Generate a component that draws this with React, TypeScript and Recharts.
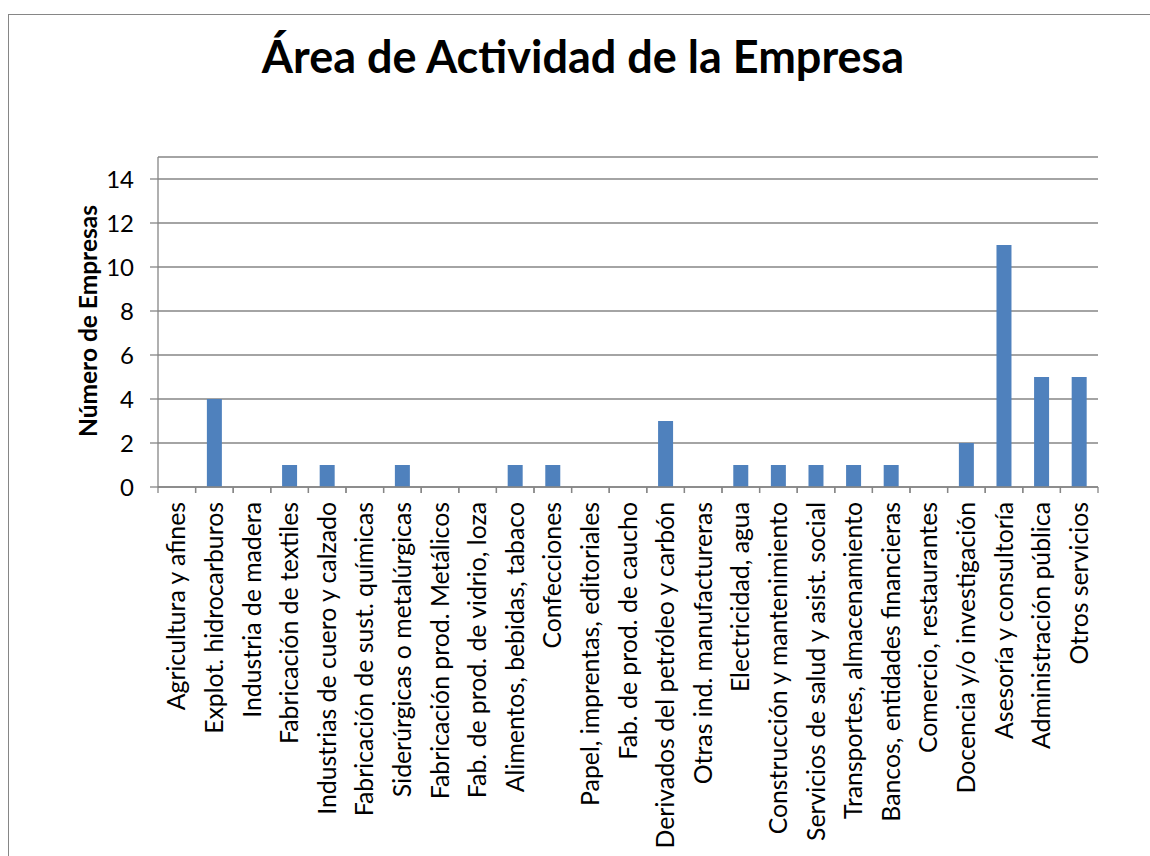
import { BarChart, Bar, XAxis, YAxis, CartesianGrid } from 'recharts';

const categories = [
  'Agricultura y afines',
  'Explot. hidrocarburos',
  'Industria de madera',
  'Fabricación de textiles',
  'Industrias de cuero y calzado',
  'Fabricación de sust. químicas',
  'Siderúrgicas o metalúrgicas',
  'Fabricación prod. Metálicos',
  'Fab. de prod. de vidrio, loza',
  'Alimentos, bebidas, tabaco',
  'Confecciones',
  'Papel, imprentas, editoriales',
  'Fab. de prod. de caucho',
  'Derivados del petróleo y carbón',
  'Otras ind. manufactureras',
  'Electricidad, agua',
  'Construcción y mantenimiento',
  'Servicios de salud y asist. social',
  'Transportes, almacenamiento',
  'Bancos, entidades financieras',
  'Comercio, restaurantes',
  'Docencia y/o investigación',
  'Asesoría y consultoría',
  'Administración pública',
  'Otros servicios',
];

const empresas = [0, 4, 0, 1, 1, 0, 1, 0, 0, 1, 1, 0, 0, 3, 0, 1, 1, 1, 1, 1, 0, 2, 11, 5, 5];

const yTicks = [0, 2, 4, 6, 8, 10, 12, 14];

const title = 'Área de Actividad de la Empresa';
const yTitle = 'Número de Empresas';

const data = categories.map((name, i) => ({ name, value: empresas[i] }));

const FONT = 'Lato, "Open Sans", sans-serif';
const GRAY = '#868686';

// category labels + tick marks at the category boundaries (Excel style)
const CategoryTick = (props: any) => {
  const { x, y, payload } = props;
  const half = payload.offset || 0;
  return (
    <g>
      <line x1={x - half} y1={y} x2={x - half} y2={y + 6} stroke={GRAY} strokeWidth={1.3} />
      <line x1={x + half} y1={y} x2={x + half} y2={y + 6} stroke={GRAY} strokeWidth={1.3} />
      <text
        x={x}
        y={y + 15}
        transform={`rotate(-90, ${x}, ${y + 15})`}
        textAnchor="end"
        dy="0.35em"
        fontFamily={FONT}
        fontSize={24.8}
        fill="#000"
      >
        {payload.value}
      </text>
    </g>
  );
};

export default function App() {
  return (
    <div style={{ position: 'relative', width: 1150, height: 856, overflow: 'hidden', background: '#fff' }}>
      <style>{'body{margin:0}'}</style>
      <div
        style={{
          position: 'absolute',
          left: 8,
          top: 14,
          width: 1300,
          height: 1000,
          border: `1px solid ${GRAY}`,
        }}
      />
      <div style={{ position: 'absolute', left: 0, top: 0 }}>
        <BarChart
          width={1150}
          height={856}
          data={data}
          margin={{ top: 157, right: 52, left: 0, bottom: 0 }}
          barCategoryGap="30%"
        >
          <text x={583} y={73} textAnchor="middle" fontFamily={FONT} fontWeight="bold" fontSize={45} fill="#000">
            {title}
          </text>
          <text
            x={88}
            y={321}
            transform="rotate(-90, 88, 321)"
            textAnchor="middle"
            dy="0.35em"
            fontFamily={FONT}
            fontWeight="bold"
            fontSize={24.5}
            fill="#000"
          >
            {yTitle}
          </text>
          <CartesianGrid vertical={false} stroke={GRAY} strokeWidth={1.3} />
          <XAxis
            dataKey="name"
            interval={0}
            height={369}
            tickSize={0}
            tickMargin={0}
            tickLine={false}
            axisLine={{ stroke: GRAY, strokeWidth: 1.3 }}
            tick={<CategoryTick />}
          />
          <YAxis
            domain={[0, 15]}
            ticks={yTicks}
            width={158}
            tickSize={8}
            tickMargin={16}
            tickLine={{ stroke: GRAY, strokeWidth: 1.3 }}
            axisLine={{ stroke: GRAY, strokeWidth: 1.3 }}
            tick={{ fill: '#000', fontSize: 24, fontFamily: FONT }}
          />
          <Bar dataKey="value" fill="#4F81BD" isAnimationActive={false} />
        </BarChart>
      </div>
    </div>
  );
}
